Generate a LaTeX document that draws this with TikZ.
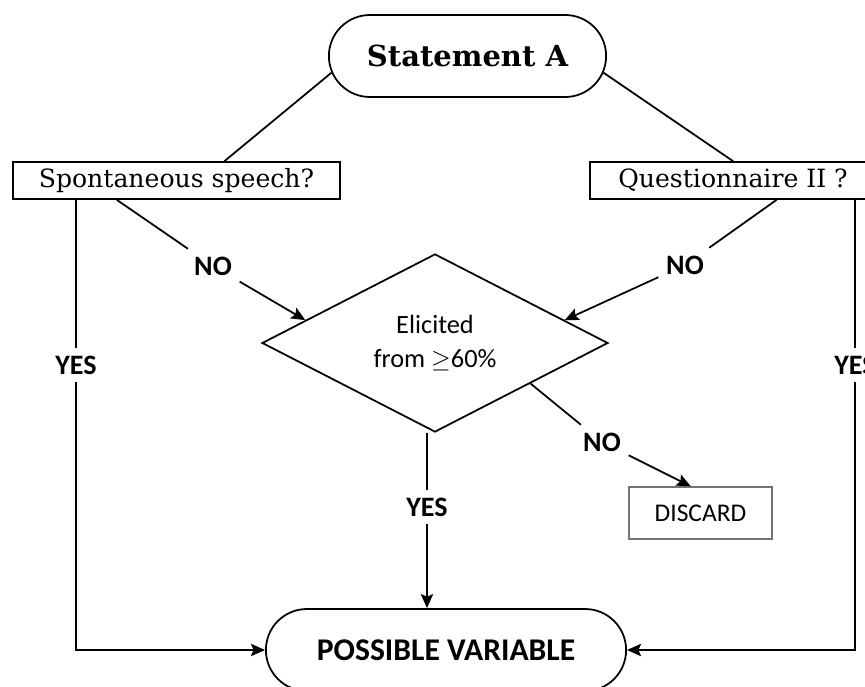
\documentclass[tikz,border=0pt]{standalone}
\usepackage{fontspec}
\setmainfont{Carlito}
\newfontfamily\slabfont{DejaVu Serif}
\usepackage{tikz}
\usetikzlibrary{shapes.geometric, shapes.misc, arrows.meta, positioning, calc}

\begin{document}
\begin{tikzpicture}[
    x=0.02cm, y=-0.02cm, line width=1pt,
    pill/.style={rounded rectangle, draw, minimum height=1.64cm, align=center},
    qbox/.style={rectangle, draw, minimum height=0.74cm, font=\slabfont\fontsize{14.3}{17}\selectfont},
    decide/.style={diamond, draw, minimum width=6.92cm, minimum height=3.24cm, inner sep=0pt, align=center, font=\fontsize{15}{19}\selectfont},
    endbox/.style={rectangle, draw=black!55, line width=0.8pt, minimum width=2.86cm, minimum height=1.04cm, font=\fontsize{14.5}{17}\selectfont},
    ans/.style={font=\bfseries\fontsize{16}{19}\selectfont, inner sep=4pt},
    arr/.style={-{Stealth[length=8pt, width=7pt, inset=1.5pt]}},
]
\useasboundingbox (0,0) rectangle (865,686);

% Start
\node[pill, minimum width=5.78cm, font=\slabfont\bfseries\fontsize{16.5}{19}\selectfont] (stA) at (467.5,56) {Statement A};

% Questions
\node[qbox, minimum width=6.54cm] (spont) at (176.5,180.5) {Spontaneous speech?};
\node[qbox, minimum width=5.72cm] (quest) at (733,180.5) {Questionnaire II ?};
\draw (stA.187.5) -- (spont.22);
\draw (stA.-7.6) -- (quest.north);

% Answers
\node[ans] (noL) at (213,266) {NO};
\node[ans] (noR) at (685,265) {NO};
\node[ans] (yesL) at (76,365) {YES};
\node[ans] (yesR) at (855,365) {YES};
\node[ans] (yesM) at (427,507) {YES};
\node[ans] (noD) at (602,442) {NO};

% Decision
\node[decide] (elic) at (435,343) {Elicited\\from $\geq$60\%};
\node[endbox] (disc) at (700.5,513) {DISCARD};
\node[pill, minimum width=7.44cm, font=\bfseries\fontsize{18}{21}\selectfont] (posv) at (446,650) {POSSIBLE VARIABLE};

\draw (spont.198) -- (noL);
\draw[arr] (noL) -- (elic.170);
\draw (quest.-24) -- (noR);
\draw[arr] (noR) -- (elic.10);
\draw (spont.south -| yesL) -- (yesL);
\draw[arr] (yesL) |- (posv);
\draw (quest.south -| yesR) -- (yesR);
\draw[arr] (yesR) |- (posv);
\draw (elic.south -| yesM) -- (yesM);
\draw[arr] (yesM) -- (yesM |- posv.north);
\draw (elic.-23) -- (noD);
\draw[arr] (noD) -- (disc.110);

\end{tikzpicture}
\end{document}
